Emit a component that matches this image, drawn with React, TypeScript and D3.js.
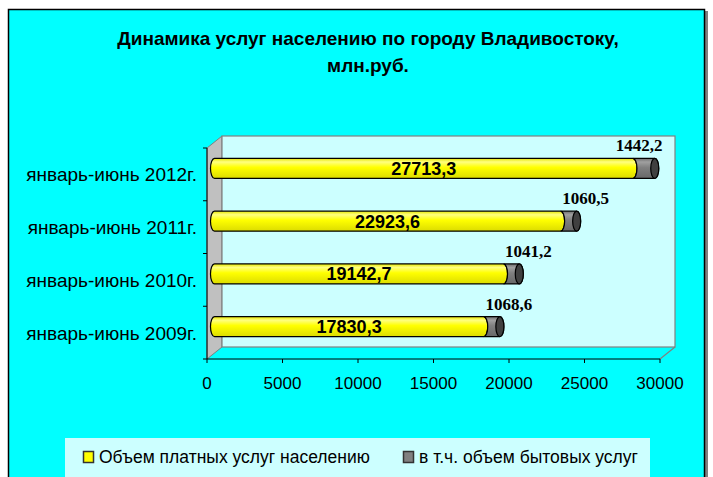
import React from "react";
import * as d3 from "d3";

const categories = ["январь-июнь 2012г.", "январь-июнь 2011г.", "январь-июнь 2010г.", "январь-июнь 2009г."];
const paidServices = [27713.3, 22923.6, 19142.7, 17830.3];
const householdServices = [1442.2, 1060.5, 1041.2, 1068.6];
const xTicks = [0, 5000, 10000, 15000, 20000, 25000, 30000];
const seriesNames = ["Объем платных услуг населению", "в т.ч. объем бытовых услуг"];
const titleLines = ["Динамика услуг населению по городу Владивостоку,", "млн.руб."];

const fmt = (v: number) => v.toFixed(1).replace(".", ",");

export default function App() {
  const x0 = 207, x1 = 660, yTop = 148, yBot = 359;
  const dx = 15, dy = -12;
  const x = d3.scaleLinear().domain([0, 30000]).range([x0, x1]);
  const y = d3.scaleBand().domain(categories).range([yTop, yBot]);
  const ry = 10, rx = 4;
  const ox = dx / 2, oy = dy / 2;

  const segPath = (xa: number, xb: number, cy: number, leftConvex: boolean) =>
    `M${xa},${cy - ry} L${xb},${cy - ry} A${rx},${ry} 0 0 1 ${xb},${cy + ry} L${xa},${cy + ry} A${rx},${ry} 0 0 ${leftConvex ? 1 : 0} ${xa},${cy - ry} Z`;

  const font = "'Liberation Sans', Arial, sans-serif";
  const serif = "'Liberation Serif', 'Times New Roman', serif";

  return (
    <svg width={713} height={477} style={{ position: "absolute", left: 0, top: 0 }}>
      <defs>
        <linearGradient id="gy" x1="0" y1="0" x2="0" y2="1">
          <stop offset="0" stopColor="#E6E600" />
          <stop offset="0.18" stopColor="#FFFF80" />
          <stop offset="0.45" stopColor="#FFFF00" />
          <stop offset="1" stopColor="#DCDC00" />
        </linearGradient>
        <linearGradient id="gg" x1="0" y1="0" x2="0" y2="1">
          <stop offset="0" stopColor="#6E6E6E" />
          <stop offset="0.18" stopColor="#A0A0A0" />
          <stop offset="0.45" stopColor="#808080" />
          <stop offset="1" stopColor="#686868" />
        </linearGradient>
      </defs>
      <rect x={0} y={0} width={713} height={477} fill="#FFFFFF" />
      <rect x={9} y={11} width={699} height={480} fill="#808080" />
      <rect x={8.5} y={9.5} width={696} height={480} fill="#00FFFF" stroke="#000" strokeWidth={1.5} />

      {titleLines.map((t, i) => (
        <text key={i} x={368} y={45 + i * 27} textAnchor="middle" fontFamily={font} fontWeight="bold" fontSize={19}>
          {t}
        </text>
      ))}

      {/* walls */}
      <polygon
        points={`${x0},${yTop} ${x0 + dx},${yTop + dy} ${x0 + dx},${yBot + dy} ${x0},${yBot}`}
        fill="#C0C0C0" stroke="#808080" strokeWidth={1}
      />
      <rect x={x0 + dx} y={yTop + dy} width={x1 - x0} height={yBot - yTop} fill="#CCFFFF" stroke="#808080" strokeWidth={1.2} />
      <line x1={x1 + dx} y1={yBot + dy} x2={x1} y2={yBot} stroke="#808080" strokeWidth={1.2} />

      {/* axes */}
      <line x1={x0} y1={yBot} x2={x1} y2={yBot} stroke="#000" strokeWidth={1} />
      <line x1={x0} y1={yTop} x2={x0} y2={yBot} stroke="#000" strokeWidth={1} />
      {xTicks.map((t) => (
        <g key={t}>
          <line x1={x(t)} y1={yBot} x2={x(t)} y2={yBot + 4} stroke="#000" />
          <text x={x(t)} y={389} textAnchor="middle" fontFamily={font} fontSize={17}>{t}</text>
        </g>
      ))}
      {[...categories.map((c) => y(c) as number), yBot].map((v, i) => (
        <line key={i} x1={x0 - 4} y1={v} x2={x0} y2={v} stroke="#000" />
      ))}
      {categories.map((c) => (
        <text key={c} x={197} y={(y(c) as number) + y.bandwidth() / 2 + 7} textAnchor="end" fontFamily={font} fontSize={19}>
          {c}
        </text>
      ))}

      {/* bars */}
      {categories.map((c, i) => {
        const cy = (y(c) as number) + y.bandwidth() / 2 + oy;
        const xa = x(0) + ox;
        const xm = x(paidServices[i]) + ox;
        const xe = x(paidServices[i] + householdServices[i]) + ox;
        const lblW = 46;
        const lx = Math.min(xe + 9, x1 + dx - 13 - lblW / 2);
        return (
          <g key={c}>
            <path d={segPath(xa, xm, cy, true)} fill="url(#gy)" stroke="#000" strokeWidth={1.2} />
            <path d={segPath(xm, xe, cy, false)} fill="url(#gg)" stroke="#000" strokeWidth={1.2} />
            <ellipse cx={xe} cy={cy} rx={rx} ry={ry} fill="#404040" stroke="#000" strokeWidth={1.2} />
            <text x={(xa + xm) / 2} y={cy + 6.5} textAnchor="middle" fontFamily={font} fontWeight="bold" fontSize={18}>
              {fmt(paidServices[i])}
            </text>
            <text x={lx} y={cy - ry - 7} textAnchor="middle" fontFamily={serif} fontWeight="bold" fontSize={17}>
              {fmt(householdServices[i])}
            </text>
          </g>
        );
      })}

      {/* legend */}
      <rect x={65} y={438} width={585} height={45} fill="#CCFFFF" />
      <rect x={83.5} y={451.5} width={10} height={11} fill="#FFFF00" stroke="#333" strokeWidth={1.5} />
      <text x={99} y={463} fontFamily={font} fontSize={17.5}>{seriesNames[0]}</text>
      <rect x={403.5} y={451.5} width={10} height={11} fill="#808080" stroke="#333" strokeWidth={1.5} />
      <text x={419} y={463} fontFamily={font} fontSize={17.5}>{seriesNames[1]}</text>
    </svg>
  );
}
